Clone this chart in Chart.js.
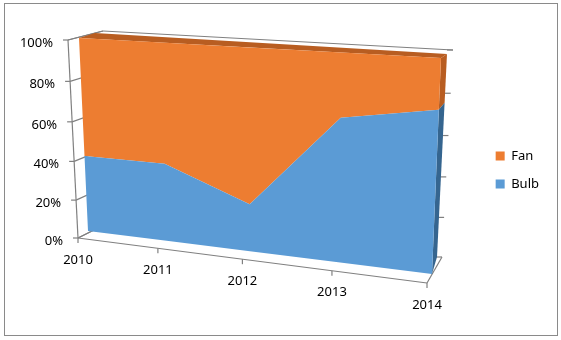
<!DOCTYPE html>
<html>
<head>
<meta charset="utf-8">
<style>
  body { margin: 0; background: #fff; }
  #frame { position: absolute; left: 4px; top: 3px; width: 552px; height: 331px; border: 1px solid #8a8a8a; }
  #chart { position: absolute; left: 0; top: 0; }
</style>
</head>
<body>
<div id="frame"></div>
<canvas id="chart" width="561" height="340"></canvas>
<script src="https://cdn.jsdelivr.net/npm/chart.js@4"></script>
<script>
// ===== DATA =====
const categories = ["2010", "2011", "2012", "2013", "2014"];
const bulbShare = [40, 40, 24, 70, 77];
const fanShare = [60, 60, 76, 30, 23];
const yTicks = [0, 20, 40, 60, 80, 100];

// ===== COLORS =====
const orange = "#ed7d31";
const orangeDark = "#b85d21";
const blue = "#5b9bd5";
const blueDark = "#35658f";
const wallLine = "#808080";
const FONT = '13px "Noto Sans"';

// ===== 3D BOX (screen corners of the planes the flat chart area is warped onto) =====
const wallFront = { tl: [68, 40], tr: [438, 62], br: [427, 283], bl: [78, 238] };
const wallBack = { tl: [103, 31], tr: [453, 50], br: [442, 257], bl: [110, 222] };
const areaFront = { tl: [79, 38], tr: [441, 58], br: [432, 274], bl: [88, 231] };
const areaBack = { tl: [95, 33], tr: [447, 54], br: [437, 257], bl: [104, 224] };

// Homography from the unit square onto a quad
function warp(quad, u, v) {
  const [x0, y0] = quad.tl, [x1, y1] = quad.tr, [x2, y2] = quad.br, [x3, y3] = quad.bl;
  const dx1 = x1 - x2, dx2 = x3 - x2, sx = x0 - x1 + x2 - x3;
  const dy1 = y1 - y2, dy2 = y3 - y2, sy = y0 - y1 + y2 - y3;
  const den = dx1 * dy2 - dx2 * dy1;
  const g = (sx * dy2 - dx2 * sy) / den;
  const h = (dx1 * sy - sx * dy1) / den;
  const a = x1 - x0 + g * x1, b = x3 - x0 + h * x3;
  const d = y1 - y0 + g * y1, e = y3 - y0 + h * y3;
  const w = g * u + h * v + 1;
  return [(a * u + b * v + x0) / w, (d * u + e * v + y0) / w];
}

// Take a value pair through the chart scales, then onto one of the planes
function project(chart, quad, index, value) {
  const area = chart.chartArea;
  const u = (chart.scales.x.getPixelForValue(index) - area.left) / (area.right - area.left);
  const v = (chart.scales.y.getPixelForValue(value) - area.top) / (area.bottom - area.top);
  return warp(quad, u, v);
}

function polygon(ctx, pts, color) {
  ctx.beginPath();
  pts.forEach((p, i) => (i ? ctx.lineTo(p[0], p[1]) : ctx.moveTo(p[0], p[1])));
  ctx.closePath();
  ctx.fillStyle = color;
  ctx.fill();
}

function segment(ctx, a, b) {
  ctx.beginPath();
  ctx.moveTo(a[0], a[1]);
  ctx.lineTo(b[0], b[1]);
  ctx.stroke();
}

// ===== PLUGIN: perspective view =====
const perspective = {
  id: "perspective",

  // Move the line points from the flat area onto the front plane
  afterDatasetsUpdate(chart) {
    chart.data.datasets.forEach((ds, d) => {
      chart.getDatasetMeta(d).data.forEach((point, i) => {
        let total = 0;
        for (let k = 0; k <= d; k++) total += chart.data.datasets[k].data[i];
        const p = project(chart, areaFront, i, total);
        point.x = p[0];
        point.y = p[1];
      });
    });
  },

  beforeDatasetsDraw(chart) {
    const ctx = chart.ctx;
    const last = categories.length - 1;
    const first = 0;
    ctx.save();

    // box lines
    ctx.strokeStyle = wallLine;
    ctx.lineWidth = 1.2;
    segment(ctx, project(chart, wallFront, first, 0), project(chart, wallFront, first, 100));
    segment(ctx, project(chart, wallFront, first, 100), project(chart, wallBack, first, 100));
    segment(ctx, project(chart, wallBack, first, 100), project(chart, wallBack, last, 100));
    segment(ctx, project(chart, wallFront, first, 0), project(chart, wallFront, last, 0));
    segment(ctx, project(chart, wallFront, first, 0), project(chart, wallBack, first, 0));
    segment(ctx, project(chart, wallFront, last, 0), project(chart, wallBack, last, 0));

    // value ticks on both walls
    yTicks.forEach((t) => {
      const a = project(chart, wallFront, first, t);
      segment(ctx, a, [a[0] - 5, a[1]]);
      segment(ctx, a, project(chart, wallBack, first, t));
      const b = project(chart, wallBack, last, t);
      segment(ctx, b, [b[0] - 6, b[1]]);
    });

    // category ticks
    categories.forEach((c, i) => {
      const a = project(chart, wallFront, i, 0);
      segment(ctx, a, [a[0], a[1] + 5]);
    });

    // depth faces
    polygon(ctx, [
      project(chart, areaFront, first, 100), project(chart, areaBack, first, 100),
      project(chart, areaBack, last, 100), project(chart, areaFront, last, 100),
    ], orangeDark);
    polygon(ctx, [
      project(chart, areaFront, last, bulbShare[last]), project(chart, areaBack, last, bulbShare[last]),
      project(chart, areaBack, last, 100), project(chart, areaFront, last, 100),
    ], orangeDark);
    polygon(ctx, [
      project(chart, areaFront, last, 0), project(chart, areaBack, last, 0),
      project(chart, areaBack, last, bulbShare[last]), project(chart, areaFront, last, bulbShare[last]),
    ], blueDark);

    // front faces, each between the warped points of its line and the one below
    const bulbPts = chart.getDatasetMeta(0).data.map((p) => [p.x, p.y]);
    const fanPts = chart.getDatasetMeta(1).data.map((p) => [p.x, p.y]);
    const floorPts = categories.map((c, i) => project(chart, areaFront, i, 0));
    polygon(ctx, fanPts.concat(bulbPts.slice().reverse()), orange);
    polygon(ctx, bulbPts.concat(floorPts.slice().reverse()), blue);
    ctx.restore();
  },

  // Tick labels, taken from the scales and placed along the warped axes
  afterDraw(chart) {
    const ctx = chart.ctx;
    ctx.save();
    ctx.font = FONT;
    ctx.fillStyle = "#000";
    ctx.textBaseline = "middle";
    ctx.textAlign = "right";
    chart.scales.y.ticks.forEach((tick) => {
      const p = project(chart, wallFront, 0, tick.value);
      ctx.fillText(tick.label, p[0] - 15, p[1] + 3);
    });
    ctx.textAlign = "center";
    chart.scales.x.ticks.forEach((tick, i) => {
      const p = project(chart, wallFront, i, 0);
      ctx.fillText(tick.label, p[0], p[1] + 22);
    });
    ctx.restore();
  },
};

// ===== CHART =====
new Chart(document.getElementById("chart"), {
  type: "line",
  data: {
    labels: categories,
    datasets: [
      { label: "Bulb", data: bulbShare, backgroundColor: blue, borderColor: blue, borderWidth: 0, pointRadius: 0, fill: false },
      { label: "Fan", data: fanShare, backgroundColor: orange, borderColor: orange, borderWidth: 0, pointRadius: 0, fill: false },
    ],
  },
  options: {
    responsive: false,
    animation: false,
    events: [],
    layout: { padding: { left: 70, top: 32, right: 12, bottom: 32 } },
    scales: {
      x: { display: false },
      y: {
        display: false,
        stacked: true,
        min: 0,
        max: 100,
        ticks: { stepSize: 20, callback: (v) => v + "%" },
      },
    },
    plugins: {
      tooltip: { enabled: false },
      legend: {
        position: "right",
        reverse: true,
        labels: { boxWidth: 9, boxHeight: 9, padding: 15, color: "#000", font: { family: "Noto Sans", size: 13 } },
      },
    },
  },
  plugins: [perspective],
});
</script>
</body>
</html>
